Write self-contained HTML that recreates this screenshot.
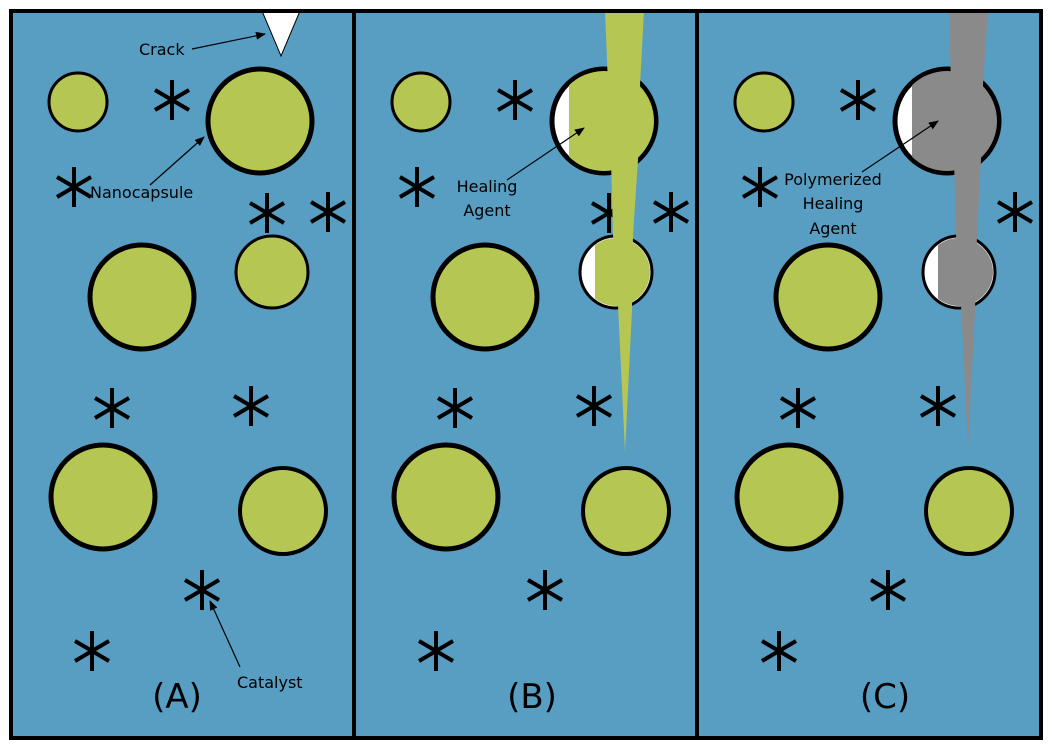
<!DOCTYPE html>
<html><head><meta charset="utf-8"><style>html,body{margin:0;padding:0;background:#fff}svg{display:block}</style></head><body>
<svg width="1052" height="744" viewBox="0 0 1052 744" xmlns="http://www.w3.org/2000/svg" font-family="DejaVu Sans, Liberation Sans, sans-serif">
<defs>
<g id="ast" stroke="#000" stroke-width="4" fill="none">
<line x1="0" y1="-20" x2="0" y2="20"/>
<line x1="-17" y1="-10" x2="17" y2="10"/>
<line x1="-17" y1="10" x2="17" y2="-10"/>
</g>
<marker id="ar" markerWidth="10" markerHeight="8" refX="9" refY="4" orient="auto" markerUnits="userSpaceOnUse"><path d="M0,0 L10,4 L0,8 Z" fill="#000"/></marker>
<clipPath id="cB1"><circle cx="604" cy="121" r="50"/></clipPath>
<clipPath id="cB2"><circle cx="616" cy="272" r="34"/></clipPath>
<clipPath id="cC1"><circle cx="947" cy="121" r="50"/></clipPath>
<clipPath id="cC2"><circle cx="959" cy="272" r="34"/></clipPath>
</defs>
<rect x="11" y="11" width="1030" height="727" fill="#579ec2"/>

<!-- Panel A -->
<g fill="#b5c652" stroke="#000">
<circle cx="78" cy="102" r="29" stroke-width="3"/>
<circle cx="260" cy="121" r="52" stroke-width="5"/>
<circle cx="142" cy="297" r="52" stroke-width="5"/>
<circle cx="272" cy="272" r="36" stroke-width="3"/>
<circle cx="103" cy="497" r="52" stroke-width="5"/>
<circle cx="283" cy="511" r="43" stroke-width="4"/>
</g>
<g>
<use href="#ast" x="172" y="100"/><use href="#ast" x="74" y="187"/><use href="#ast" x="267" y="213"/><use href="#ast" x="328" y="212"/>
<use href="#ast" x="112" y="408"/><use href="#ast" x="251" y="406"/><use href="#ast" x="202" y="590"/><use href="#ast" x="92" y="651"/>
</g>
<polygon points="262,11 300,11 281,56" fill="#fff" stroke="#000" stroke-width="1"/>
<g font-size="16" fill="#000">
<text x="139" y="55">Crack</text>
<text x="90" y="198">Nanocapsule</text>
<text x="237" y="688">Catalyst</text>
</g>
<g stroke="#000" stroke-width="1.2" marker-end="url(#ar)">
<line x1="192" y1="49" x2="265" y2="34"/>
<line x1="150" y1="185" x2="204" y2="137"/>
<line x1="240" y1="667" x2="210" y2="601"/>
</g>
<text x="177" y="708" font-size="34" text-anchor="middle">(A)</text>

<!-- Panel B -->
<g fill="#b5c652" stroke="#000">
<circle cx="421" cy="102" r="29" stroke-width="3"/>
<circle cx="485" cy="297" r="52" stroke-width="5"/>
<circle cx="446" cy="497" r="52" stroke-width="5"/>
<circle cx="626" cy="511" r="43" stroke-width="4"/>
</g>
<circle cx="604" cy="121" r="52" fill="#fff" stroke="#000" stroke-width="5"/>
<rect x="569" y="60" width="100" height="130" fill="#b5c652" clip-path="url(#cB1)"/>
<circle cx="616" cy="272" r="36" fill="#fff" stroke="#000" stroke-width="3"/>
<rect x="595" y="230" width="70" height="90" fill="#b5c652" clip-path="url(#cB2)"/>
<g>
<use href="#ast" x="515" y="100"/><use href="#ast" x="417" y="187"/><use href="#ast" x="609" y="213"/><use href="#ast" x="671" y="212"/>
<use href="#ast" x="455" y="408"/><use href="#ast" x="594" y="406"/><use href="#ast" x="545" y="590"/><use href="#ast" x="436" y="651"/>
</g>
<polygon points="605,11 644,11 640,85 638,160 633,235 632,310 625,452 618,305 613,235 611,160 608,85" fill="#b5c652"/>
<g font-size="16" fill="#000" text-anchor="middle">
<text x="487" y="192">Healing</text>
<text x="487" y="216">Agent</text>
</g>
<line x1="507" y1="180" x2="584" y2="128" stroke="#000" stroke-width="1.2" marker-end="url(#ar)"/>
<text x="532" y="708" font-size="34" text-anchor="middle">(B)</text>

<!-- Panel C -->
<g fill="#b5c652" stroke="#000">
<circle cx="764" cy="102" r="29" stroke-width="3"/>
<circle cx="828" cy="297" r="52" stroke-width="5"/>
<circle cx="789" cy="497" r="52" stroke-width="5"/>
<circle cx="969" cy="511" r="43" stroke-width="4"/>
</g>
<circle cx="947" cy="121" r="52" fill="#fff" stroke="#000" stroke-width="5"/>
<rect x="912" y="60" width="100" height="130" fill="#8a8a8a" clip-path="url(#cC1)"/>
<circle cx="959" cy="272" r="36" fill="#fff" stroke="#000" stroke-width="3"/>
<rect x="938" y="230" width="70" height="90" fill="#8a8a8a" clip-path="url(#cC2)"/>
<g>
<use href="#ast" x="858" y="100"/><use href="#ast" x="760" y="187"/><use href="#ast" x="1015" y="212"/>
<use href="#ast" x="798" y="408"/><use href="#ast" x="938" y="406"/><use href="#ast" x="888" y="590"/><use href="#ast" x="779" y="651"/>
</g>
<polygon points="949,11 988,11 983,85 981,160 977,235 975,310 968,448 961,305 956,235 954,160 951,85" fill="#8a8a8a"/>
<g font-size="16" fill="#000" text-anchor="middle">
<text x="833" y="185">Polymerized</text>
<text x="833" y="209">Healing</text>
<text x="833" y="234">Agent</text>
</g>
<line x1="862" y1="172" x2="938" y2="121" stroke="#000" stroke-width="1.2" marker-end="url(#ar)"/>
<text x="885" y="708" font-size="34" text-anchor="middle">(C)</text>

<!-- frame -->
<rect x="11" y="11" width="1030" height="727" fill="none" stroke="#000" stroke-width="4"/>
<line x1="354" y1="11" x2="354" y2="738" stroke="#000" stroke-width="4"/>
<line x1="697" y1="11" x2="697" y2="738" stroke="#000" stroke-width="4"/>
</svg>
</body></html>
